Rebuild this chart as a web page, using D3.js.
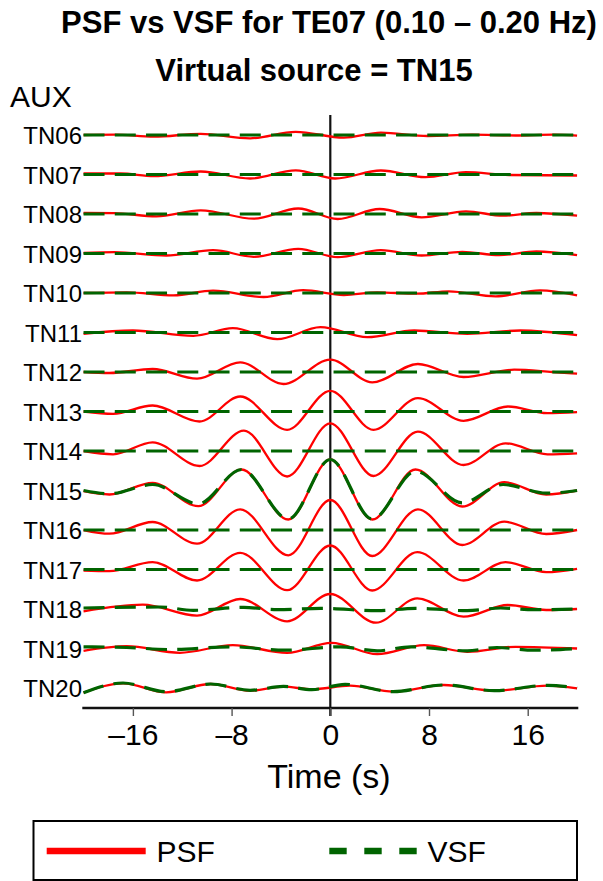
<!DOCTYPE html>
<html>
<head>
<meta charset="utf-8">
<script src="https://cdn.jsdelivr.net/npm/d3@7"></script>
<style>
  html, body { margin: 0; padding: 0; background: #fff; }
  svg { display: block; }
  text { font-family: "Liberation Sans", Arial, Helvetica, sans-serif; fill: #000; }
</style>
</head>
<body>
<svg id="chart" width="603" height="881"></svg>
<script>
// ---------------- DATA ----------------
const titleLine1 = "PSF vs VSF for TE07 (0.10 \u2013 0.20 Hz)";
const titleLine2 = "Virtual source = TN15";
const yAxisHeader = "AUX";
const xAxisTitle = "Time (s)";
const stations = ["TN06","TN07","TN08","TN09","TN10","TN11","TN12","TN13","TN14","TN15","TN16","TN17","TN18","TN19","TN20"];
const xTicks = [-16, -8, 0, 8, 16];
const timeDomain = [-20.1, 20.1];
const seriesNames = ["PSF", "VSF"];

// Trace extrema: [time (s), amplitude (arb. units)]
const psfTN06 = [[-20,0],[-17.5,0.3],[-14.3,-1.7],[-10.5,1.2],[-6.5,-3.3],[-2.8,3.2],[1.1,-2.7],[4.1,2.3],[7.9,-1],[11.5,0.3],[15,-0.5],[18,0.3],[20,-0.7]];
const psfTN07 = [[-20,1],[-17,1],[-14.3,-1.7],[-10.5,3],[-6.5,-4],[-2.8,4.2],[0.4,-4],[4.1,4],[7.7,-2.7],[11,2.3],[14.5,-0.5],[20,-1]];
const psfTN08 = [[-20,1],[-17.5,0.8],[-14.1,-2.3],[-10.5,3.7],[-6.2,-4.7],[-2.6,5.5],[0.6,-5],[4,5],[7.4,-3.3],[11,2.7],[14,-1.7],[16.7,1],[20,-1.7]];
const psfTN09 = [[-20,0.7],[-17.5,1.3],[-13.3,-2],[-9.5,3.3],[-6.2,-3.3],[-2.6,4.7],[0.6,-3.7],[4.1,3.3],[7.4,-2],[10.7,1.7],[13.7,-1.7],[16.7,2],[20,-1.7]];
const psfTN10 = [[-20,0],[-16.5,0.7],[-12.7,-2.3],[-9.5,2.3],[-5.4,-4],[-2.2,2.8],[1.1,-2],[3.8,0.7],[7,-0.7],[9.6,1.7],[13.4,-3.3],[17,2.7],[20,-2.3]];
const psfTN11 = [[-20,-1.3],[-16,2],[-11.1,-3.3],[-7.9,4.3],[-4.3,-6.7],[-0.8,5.3],[3,-4.7],[6.8,2],[11.1,-1.3],[15.4,2],[20,-2.7]];
const psfTN12 = [[-20,0],[-17.9,-1],[-14.4,3],[-10.8,-6.7],[-7.3,9.7],[-3.8,-12],[0,12.3],[3.4,-10.3],[7.1,8],[10.8,-5],[14.9,2.3],[18,0],[20,-1.7]];
const psfTN13 = [[-20,0],[-17.6,-2.3],[-14.4,6],[-10.6,-10],[-7.3,15],[-3.5,-18.3],[0,20.7],[3.5,-18.3],[7.1,13.3],[10.8,-9.3],[14.4,5],[17.6,-1.7],[20,-0.7]];
const psfTN14 = [[-20,0],[-17.6,-3.3],[-14.4,8.7],[-10.6,-15],[-7,20.3],[-3.5,-25.5],[0,27.7],[3.5,-25],[7.1,19.3],[10.8,-14],[14.2,7.7],[17.6,-3.3],[20,-2.3]];
const psfTN15 = [[-20,-0.7],[-17.9,-4],[-14.4,7.7],[-10.7,-15.7],[-7.2,21],[-3.4,-29],[0,31],[3.4,-29],[6.9,21],[10.7,-16],[14.1,8.3],[17.5,-4],[20,0]];
const psfTN16 = [[-20,0],[-17.9,-3.7],[-14.4,8],[-10.8,-13.7],[-7.3,20.7],[-3.4,-25.3],[0,30],[3.4,-26],[7.1,20.7],[10.7,-15],[14.1,8.3],[17.5,-4],[20,0]];
const psfTN17 = [[-20,-1],[-17.9,-1.7],[-14.4,7.3],[-10.8,-11],[-7.3,16.7],[-3.5,-20.7],[0,24],[3.4,-21],[7.05,17.3],[10.8,-11],[14.2,7.3],[17.5,-2.7],[20,0.7]];
const psfTN18 = [[-20,-2.3],[-15.2,4.3],[-10.8,-6.7],[-7.3,10],[-3.5,-12.3],[0,15],[3.7,-13.7],[7.05,10.7],[10.8,-7.7],[14.4,4],[17.5,-1],[20,0]];
const psfTN19 = [[-20,-2.3],[-16.5,2.3],[-12.2,-4.3],[-7.9,3.3],[-3.5,-4.3],[0.1,5.7],[3.8,-5.7],[7.6,3.3],[11.1,-3.3],[15,1.7],[20,0]];
const psfTN20 = [[-20,-4.7],[-16.8,4.7],[-13.3,-4.3],[-9.7,4],[-6.5,-2.7],[-3.8,1.3],[-1.5,-1.3],[1.6,2.3],[5.1,-3.7],[9.2,3],[13.3,-2.7],[17.6,2.3],[20,-0.3]];

const vsfFlat = [[-20,0],[20,0]];
const vsfTN15 = [[-20,0],[-17.9,-3.3],[-14.4,6],[-10.7,-13.3],[-7.2,21],[-3.4,-28.5],[0,31],[3.4,-28.5],[6.9,19.3],[10.7,-12.3],[14,6],[17.5,-2.7],[20,0]];
const vsfTN18 = [[-20,1],[-13.8,2],[-11.1,-1.3],[-7,1.7],[-4.3,-0.7],[-0.8,0.7],[3.8,-1.7],[6.9,0.7],[11.1,-1.7],[13.8,1],[16.5,-0.7],[20,0]];
const vsfTN19 = [[-20,1.7],[-16.5,1],[-13,-1],[-8,1.7],[-3.7,-1.7],[0.8,1.7],[3.8,-2.3],[6.5,1.7],[11.1,-2.3],[13.5,1],[16.5,-1.7],[20,0]];
const vsfTN20 = [[-20,-4.7],[-16.8,5],[-13.3,-3.7],[-9.7,4],[-6.5,-2.3],[-3.8,1.7],[-1.5,-1.7],[1.2,3.7],[5.1,-3.7],[9.2,3],[13.3,-2.7],[17.6,2.7],[20,0]];

const psfTraces = [psfTN06,psfTN07,psfTN08,psfTN09,psfTN10,psfTN11,psfTN12,psfTN13,psfTN14,psfTN15,psfTN16,psfTN17,psfTN18,psfTN19,psfTN20];
const vsfTraces = [vsfFlat,vsfFlat,vsfFlat,vsfFlat,vsfFlat,vsfFlat,vsfFlat,vsfFlat,vsfFlat,vsfTN15,vsfFlat,vsfFlat,vsfTN18,vsfTN19,vsfTN20];

// ---------------- DRAW ----------------
const svg = d3.select("#chart");
const FONT = '"Liberation Sans", Arial, Helvetica, sans-serif';
const RED = "#ff0000", GREEN = "#006400";

const x = d3.scaleLinear().domain(timeDomain).range([82.3, 578.3]);
const yBase = d3.scalePoint().domain(stations).range([135, 688]);
const amp = d3.scaleLinear().domain([-32, 32]).range([32, -32]);

const lineFor = (base) => d3.line()
  .x(d => x(d[0]))
  .y(d => base + amp(d[1]))
  .curve(d3.curveMonotoneX);

// Titles
svg.append("text").attr("x", 329).attr("y", 33).attr("text-anchor", "middle")
  .attr("font-size", 31).attr("font-weight", "bold").text(titleLine1);
svg.append("text").attr("x", 314).attr("y", 81).attr("text-anchor", "middle")
  .attr("font-size", 31).attr("font-weight", "bold").text(titleLine2);
svg.append("text").attr("x", 10).attr("y", 107)
  .attr("font-size", 30).text(yAxisHeader);

// Zero line
svg.append("line").attr("x1", x(0)).attr("x2", x(0)).attr("y1", 115).attr("y2", 716)
  .attr("stroke", "#111").attr("stroke-width", 2.2);

// X axis
const xAxis = d3.axisBottom(x).tickValues(xTicks).tickSize(8).tickPadding(6)
  .tickFormat(d => d < 0 ? "\u2013" + Math.abs(d) : String(d));
const gx = svg.append("g").attr("transform", "translate(0,708)").call(xAxis);
gx.select(".domain").attr("d", `M${x(timeDomain[0])},0H${x(timeDomain[1])}`)
  .attr("stroke", "#111").attr("stroke-width", 2.6);
gx.selectAll(".tick line").attr("stroke", "#555").attr("stroke-width", 1.4);
gx.selectAll(".tick text").attr("font-family", FONT).attr("font-size", 30).attr("fill", "#000")
  .attr("dy", null).attr("y", 37);
svg.append("text").attr("x", 329).attr("y", 788).attr("text-anchor", "middle")
  .attr("font-size", 34).text(xAxisTitle);

// Traces
const gTr = svg.append("g");
stations.forEach((s, i) => {
  const base = yBase(s);
  gTr.append("path").attr("d", lineFor(base)(psfTraces[i]))
    .attr("fill", "none").attr("stroke", RED).attr("stroke-width", 2.3);
});
stations.forEach((s, i) => {
  const base = yBase(s);
  gTr.append("path").attr("d", lineFor(base)(vsfTraces[i]))
    .attr("fill", "none").attr("stroke", GREEN).attr("stroke-width", 3.2)
    .attr("stroke-dasharray", "21,10.25");
});

// Station labels
svg.append("g").selectAll("text").data(stations).join("text")
  .attr("x", 82).attr("y", d => yBase(d) + 9).attr("text-anchor", "end")
  .attr("font-size", 24).text(d => d);

// Legend
const lg = svg.append("g");
lg.append("rect").attr("x", 33.5).attr("y", 821).attr("width", 543.5).attr("height", 59)
  .attr("fill", "none").attr("stroke", "#000").attr("stroke-width", 2);
lg.append("line").attr("x1", 46.7).attr("x2", 145.7).attr("y1", 851).attr("y2", 851)
  .attr("stroke", RED).attr("stroke-width", 6.5);
lg.append("text").attr("x", 156.5).attr("y", 862).attr("font-size", 30).text(seriesNames[0]);
lg.append("line").attr("x1", 329.3).attr("x2", 416.7).attr("y1", 851).attr("y2", 851)
  .attr("stroke", GREEN).attr("stroke-width", 6.5).attr("stroke-dasharray", "17.4,17.6");
lg.append("text").attr("x", 427.5).attr("y", 862).attr("font-size", 30).text(seriesNames[1]);
</script>
</body>
</html>
